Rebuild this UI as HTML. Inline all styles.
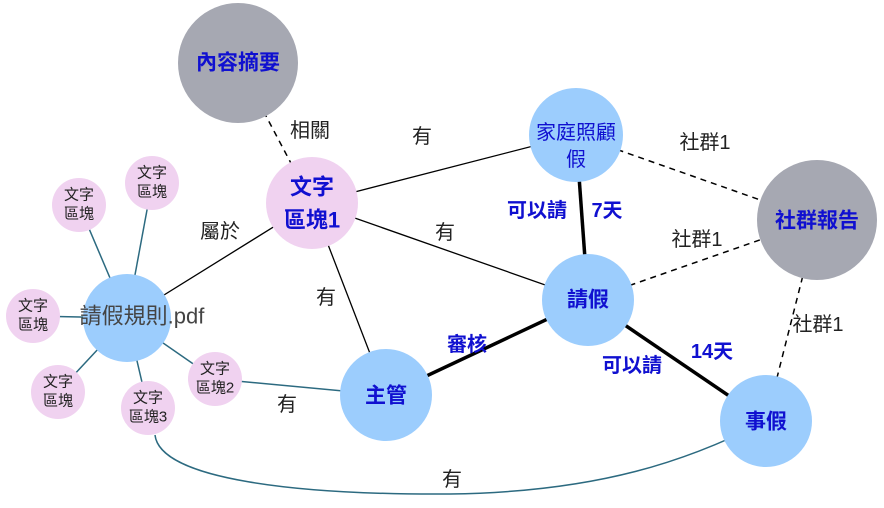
<!DOCTYPE html>
<html><head><meta charset="utf-8"><style>
body{margin:0;background:#fff}
svg{display:block}
text{font-family:"Liberation Sans","Noto Sans CJK TC",sans-serif;text-anchor:middle;dominant-baseline:central}
.b{fill:#1010d0;font-weight:bold}
.k{fill:#222}
</style></head><body>
<svg width="884" height="508" viewBox="0 0 884 508">
<g stroke="#2c6a80" stroke-width="1.5" fill="none">
<line x1="127" y1="318" x2="152" y2="183"/>
<line x1="127" y1="318" x2="79" y2="205"/>
<line x1="127" y1="318" x2="33" y2="316"/>
<line x1="127" y1="318" x2="58" y2="392"/>
<line x1="127" y1="318" x2="148" y2="408"/>
<line x1="127" y1="318" x2="215" y2="379"/>
<line x1="215" y1="379" x2="386" y2="395"/>
<path d="M155 435 C160 480,300 495,450 494 C600 492,690 460,766 421"/>
</g>
<g stroke="#000" stroke-width="1.3" fill="none">
<line x1="127" y1="318" x2="312" y2="203"/>
<line x1="312" y1="203" x2="576" y2="135"/>
<line x1="312" y1="203" x2="588" y2="300"/>
<line x1="312" y1="203" x2="386" y2="395"/>
<g stroke-dasharray="6,5" stroke-width="1.5">
<line x1="238" y1="63" x2="312" y2="203"/>
<line x1="576" y1="135" x2="817" y2="220"/>
<line x1="588" y1="300" x2="817" y2="220"/>
<line x1="766" y1="421" x2="817" y2="220"/>
</g>
<g stroke-width="3.5">
<line x1="576" y1="135" x2="588" y2="300"/>
<line x1="386" y1="395" x2="588" y2="300"/>
<line x1="588" y1="300" x2="766" y2="421"/>
</g>
</g>
<g>
<circle cx="238" cy="63" r="60" fill="#a6a8b2"/>
<circle cx="817" cy="220" r="60" fill="#a6a8b2"/>
<circle cx="312" cy="203" r="46" fill="#f0d2f0"/>
<circle cx="576" cy="135" r="47" fill="#9ccdfd"/>
<circle cx="588" cy="300" r="46" fill="#9ccdfd"/>
<circle cx="386" cy="395" r="46" fill="#9ccdfd"/>
<circle cx="766" cy="421" r="46" fill="#9ccdfd"/>
<circle cx="127" cy="318" r="44" fill="#9ccdfd"/>
<g fill="#f0d2f0">
<circle cx="152" cy="183" r="27"/><circle cx="79" cy="205" r="27"/>
<circle cx="33" cy="316" r="27"/><circle cx="58" cy="392" r="27"/>
<circle cx="148" cy="408" r="27"/><circle cx="215" cy="379" r="27"/>
</g>
</g>
<g font-size="21">
<text class="b" x="238" y="63">內容摘要</text>
<text class="b" x="817" y="221">社群報告</text>
<text class="b" x="312" y="187" font-size="22">文字</text>
<text class="b" x="312" y="220" font-size="22">區塊1</text>
<text x="576" y="133" font-size="20" fill="#1010d0">家庭照顧</text>
<text x="576" y="160" font-size="20" fill="#1010d0">假</text>
<text class="b" x="588" y="300">請假</text>
<text class="b" x="386" y="396">主管</text>
<text class="b" x="766" y="422">事假</text>
<text x="142" y="316" font-size="22" fill="#444">請假規則.pdf</text>
</g>
<g font-size="15" class="k">
<text x="152" y="173">文字</text><text x="152" y="192">區塊</text>
<text x="79" y="195">文字</text><text x="79" y="214">區塊</text>
<text x="33" y="306">文字</text><text x="33" y="325">區塊</text>
<text x="58" y="382">文字</text><text x="58" y="401">區塊</text>
<text x="148" y="398">文字</text><text x="148" y="417">區塊3</text>
<text x="215" y="369">文字</text><text x="215" y="388">區塊2</text>
</g>
<g font-size="20" class="k">
<text x="310" y="131">相關</text>
<text x="422" y="137">有</text>
<text x="445" y="233">有</text>
<text x="326" y="298">有</text>
<text x="220" y="232">屬於</text>
<text x="287" y="405">有</text>
<text x="452" y="480">有</text>
<text x="705" y="143">社群1</text>
<text x="697" y="240">社群1</text>
<text x="818" y="325">社群1</text>
</g>
<g font-size="20">
<text class="b" x="537" y="211">可以請</text>
<text class="b" x="607" y="211">7天</text>
<text class="b" x="467" y="345">審核</text>
<text class="b" x="632" y="366">可以請</text>
<text class="b" x="712" y="352">14天</text>
</g>
</svg>
</body></html>
